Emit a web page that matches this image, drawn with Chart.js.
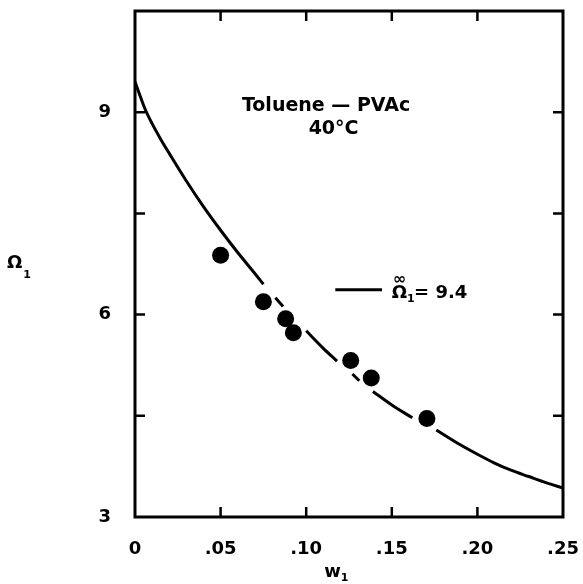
<!DOCTYPE html>
<html>
<head>
<meta charset="utf-8">
<script src="https://cdn.jsdelivr.net/npm/chart.js@4.4.1/dist/chart.umd.min.js"></script>
<style>
  html, body { margin: 0; padding: 0; background: #fff; }
</style>
</head>
<body>
<canvas id="c" width="583" height="584"></canvas>
<script>
// ── data ─────────────────────────────────────────────
// measured points (w1, Omega1)
const pointW     = [0.050, 0.075, 0.088, 0.0925, 0.126, 0.138, 0.1705];
const pointOmega = [6.88, 6.19, 5.94, 5.73, 5.32, 5.06, 4.46];

// curve for Omega1_inf = 9.4 ; null = break (the original line is interrupted near the points)
const curveW     = [0, 0.003, 0.006, 0.01, 0.015, 0.02, 0.03, 0.04, 0.05, 0.06, 0.07, 0.075,
                    0.078, 0.082, 0.0865, 0.093, 0.100, 0.110, 0.118, 0.122, 0.127, 0.131,
                    0.135, 0.139, 0.150, 0.162, 0.169, 0.176, 0.190, 0.200, 0.210, 0.220,
                    0.230, 0.240, 0.250];
const curveOmega = [9.45, 9.24, 9.04, 8.83, 8.60, 8.39, 7.98, 7.60, 7.25, 6.92, 6.61, 6.45,
                    null, 6.25, 6.12, null, 5.76, 5.50, 5.31, null, 5.12, 5.02,
                    null, 4.86, 4.66, 4.47, null, 4.29, 4.07, 3.93, 3.80, 3.69,
                    3.60, 3.51, 3.43];

const xTicks = [0, 0.05, 0.10, 0.15, 0.20, 0.25];
const xTickLabels = ['0', '.05', '.10', '.15', '.20', '.25'];
const yTicks = [3, 4.5, 6, 7.5, 9, 10.5];
const yTickLabels = ['3', '', '6', '', '9', ''];

const FONT = '"DejaVu Sans", sans-serif';
const TICK = 10;

// ── frame, inward ticks, labels ──────────────────────
const frame = {
    id: 'frame',
    afterDraw(chart) {
        const { ctx, chartArea: a, scales: { x, y } } = chart;
        ctx.save();
        ctx.strokeStyle = '#000';
        ctx.lineWidth = 3;
        ctx.strokeRect(a.left, a.top, a.right - a.left, a.bottom - a.top);

        ctx.lineWidth = 2.5;
        ctx.beginPath();
        xTicks.slice(1, -1).forEach(v => {
            const px = x.getPixelForValue(v);
            ctx.moveTo(px, a.bottom); ctx.lineTo(px, a.bottom - TICK);
            ctx.moveTo(px, a.top);    ctx.lineTo(px, a.top + TICK);
        });
        yTicks.slice(1, -1).forEach(v => {
            const py = y.getPixelForValue(v);
            ctx.moveTo(a.left, py);  ctx.lineTo(a.left + TICK, py);
            ctx.moveTo(a.right, py); ctx.lineTo(a.right - TICK, py);
        });
        ctx.stroke();

        ctx.fillStyle = '#000';
        ctx.textBaseline = 'alphabetic';

        // system + temperature
        ctx.font = 'bold 19px ' + FONT;
        ctx.textAlign = 'center';
        ctx.fillText('Toluene \u2014 PVAc', x.getPixelForValue(0.1116), y.getPixelForValue(9.02));
        ctx.fillText('40\u00B0C', x.getPixelForValue(0.116), y.getPixelForValue(8.67));

        // legend line + label
        const ly = y.getPixelForValue(6.37);
        ctx.lineWidth = 3;
        ctx.beginPath();
        ctx.moveTo(x.getPixelForValue(0.117), ly);
        ctx.lineTo(x.getPixelForValue(0.1443), ly);
        ctx.stroke();

        const tx = x.getPixelForValue(0.150);
        const tb = y.getPixelForValue(6.25);
        ctx.textAlign = 'left';
        ctx.font = 'bold 18px ' + FONT;
        ctx.fillText('\u03A9', tx, tb);
        const ow = ctx.measureText('\u03A9').width;
        ctx.font = 'bold 11px ' + FONT;
        ctx.fillText('1', tx + ow, tb + 4);
        ctx.font = 'bold 16px ' + FONT;
        ctx.fillText('\u221E', tx + 1, tb - 14);
        ctx.font = 'bold 18px ' + FONT;
        ctx.fillText('= 9.4', tx + ow + 7, tb);

        // axis titles
        ctx.font = 'bold 18px ' + FONT;
        ctx.fillText('\u03A9', 7, 268);
        const w1 = ctx.measureText('\u03A9').width;
        ctx.font = 'bold 11px ' + FONT;
        ctx.fillText('1', 7 + w1 + 1, 278);

        ctx.font = 'bold 18px ' + FONT;
        const wx = x.getPixelForValue(0.1105);
        ctx.fillText('w', wx, 577);
        const ww = ctx.measureText('w').width;
        ctx.font = 'bold 11px ' + FONT;
        ctx.fillText('1', wx + ww, 581);
        ctx.restore();
    }
};

const tickFont = { family: FONT, size: 18, weight: 'bold' };

new Chart(document.getElementById('c'), {
    type: 'scatter',
    data: {
        datasets: [
            {
                type: 'line',
                data: curveW.map((w, i) => ({ x: w, y: curveOmega[i] })),
                borderColor: '#000',
                borderWidth: 3,
                pointRadius: 0,
                cubicInterpolationMode: 'monotone',
                spanGaps: false,
                fill: false,
                order: 2,
            },
            {
                data: pointW.map((w, i) => ({ x: w, y: pointOmega[i] })),
                backgroundColor: '#000',
                borderWidth: 0,
                pointRadius: 8.5,
                order: 1,
            }
        ]
    },
    options: {
        responsive: false,
        animation: false,
        devicePixelRatio: 1,
        layout: { padding: { left: 0, top: 11, right: 20, bottom: 0 } },
        plugins: { legend: { display: false }, tooltip: { enabled: false } },
        scales: {
            x: {
                type: 'linear',
                min: 0, max: 0.25,
                grid: { display: false },
                border: { display: false },
                afterBuildTicks: s => { s.ticks = xTicks.map(v => ({ value: v })); },
                afterFit: s => { s.height = 67; s.paddingLeft = 0; s.paddingRight = 0; },
                ticks: {
                    padding: 14,
                    color: '#000',
                    font: tickFont,
                    maxRotation: 0,
                    callback: (v, i) => xTickLabels[i],
                }
            },
            y: {
                type: 'linear',
                min: 3, max: 10.5,
                grid: { display: false },
                border: { display: false },
                afterBuildTicks: s => { s.ticks = yTicks.map(v => ({ value: v })); },
                afterFit: s => { s.width = 135; s.paddingTop = 0; s.paddingBottom = 0; },
                ticks: {
                    padding: 16,
                    color: '#000',
                    font: tickFont,
                    callback: (v, i) => yTickLabels[i],
                }
            }
        }
    },
    plugins: [frame]
});
</script>
</body>
</html>
